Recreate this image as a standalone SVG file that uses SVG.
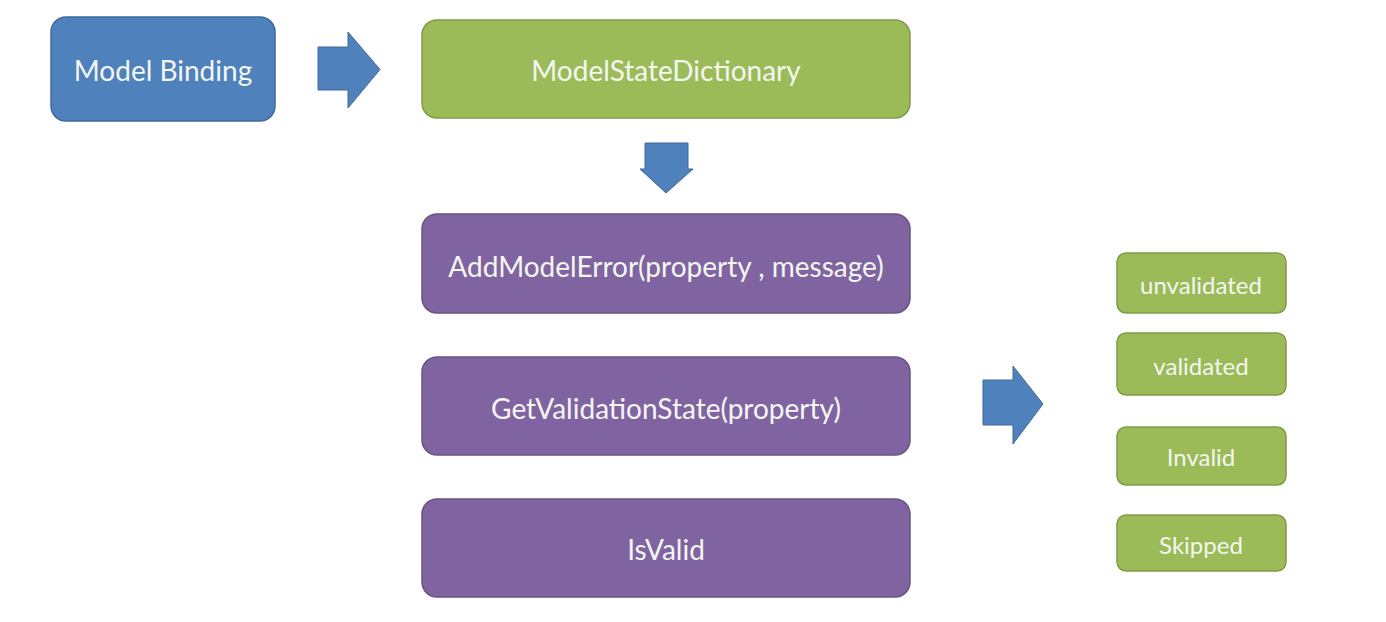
<svg xmlns="http://www.w3.org/2000/svg" width="1386" height="622" viewBox="0 0 1386 622">
<style>
.blue{fill:#4f81bd;stroke:#41699b;stroke-width:1.5}
.green{fill:#9bbb59;stroke:#7f9a48;stroke-width:1.5}
.purple{fill:#8064a2;stroke:#695285;stroke-width:1.5}
.arrow{fill:#4f81bd;stroke:#41699b;stroke-width:1}
text{font-family:Lato,"Open Sans","Liberation Sans",sans-serif;fill:#f4f6f0;text-anchor:middle;dominant-baseline:central}
.big{font-size:28px}
.small{font-size:24px}
</style>
<rect width="1386" height="622" fill="#ffffff"/>
<g id="connectors">
<path class="arrow" d="M318,47 H348 V32 L380,69.5 L348,108 V90 H318 Z"/>
<path class="arrow" d="M645,143 H688 V169 H693 L666,193 L640,169 H645 Z"/>
<path class="arrow" d="M983,380 H1013 V366 L1043,404 L1013,444 V425 H983 Z"/>
</g>
<g id="model-binding"><rect class="blue" x="51" y="17" width="224" height="104" rx="15"/><text class="big" x="163" y="70">Model Binding</text></g>
<g id="model-state-dictionary"><rect class="green" x="422" y="20" width="488" height="98" rx="15"/><text class="big" x="666" y="70">ModelStateDictionary</text></g>
<g id="add-model-error"><rect class="purple" x="422" y="214" width="488" height="99" rx="15"/><text class="big" x="666" y="266">AddModelError(property , message)</text></g>
<g id="get-validation-state"><rect class="purple" x="422" y="357" width="488" height="98" rx="15"/><text class="big" x="666" y="408">GetValidationState(property)</text></g>
<g id="is-valid"><rect class="purple" x="422" y="499" width="488" height="98" rx="15"/><text class="big" x="666" y="549">IsValid</text></g>
<g id="unvalidated"><rect class="green" x="1117" y="253" width="169" height="60" rx="9"/><text class="small" x="1201" y="284">unvalidated</text></g>
<g id="validated"><rect class="green" x="1117" y="333" width="169" height="62" rx="9"/><text class="small" x="1201" y="365">validated</text></g>
<g id="invalid"><rect class="green" x="1117" y="427" width="169" height="58" rx="9"/><text class="small" x="1201" y="456">Invalid</text></g>
<g id="skipped"><rect class="green" x="1117" y="515" width="169" height="56" rx="9"/><text class="small" x="1201" y="544">Skipped</text></g>
</svg>
